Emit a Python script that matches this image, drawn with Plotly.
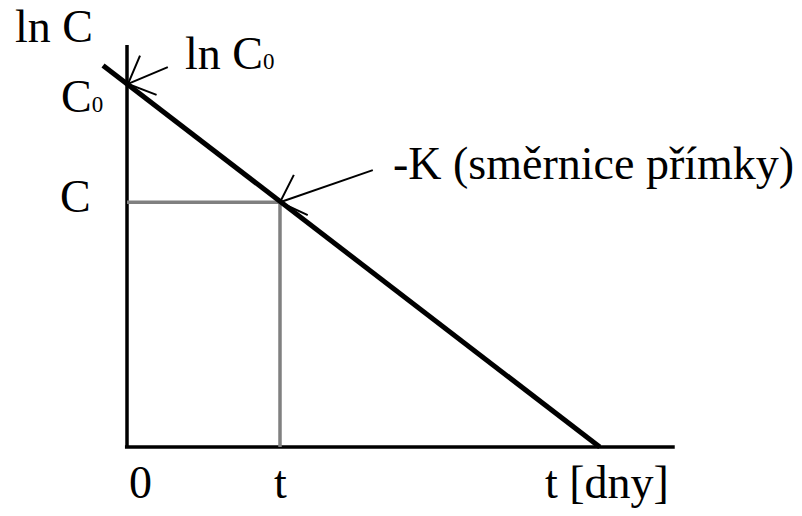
import math
import plotly.graph_objects as go

# ---- schematic data (t in arbitrary day units, ln C in arbitrary units) ----
line_t = [-0.47, 9.27]          # regression line  ln C = ln C0 - K t
line_lnC = [7.48, 0.0]
t_mark = 3.0                    # chosen time t
lnC_mark = 4.80                 # ln C at time t
lnC0 = 7.12                     # intercept ln C0
x_axis_t = [-0.04, 10.74]
y_axis_lnC = [0.0, 7.88]
# pointer arrows: (tip t, tip lnC, tail t, tail lnC)
arrows = [(0.02, lnC0, 0.80, 7.45), (t_mark, lnC_mark, 4.82, 5.43)]

FONT = '"Liberation Serif", "Times New Roman", serif'
FS = 46
SUB = '<span style="font-size:23px">0</span>'

# frame: the page body has an 8px margin, so the figure is 794x508
W, H = 794, 508
PX = 51.0
OX, OY = 119, 439               # pixel position of the data origin inside the figure
x_range = [-OX / PX, (W - OX) / PX]
y_range = [-(H - OY) / PX, OY / PX]

fig = go.Figure()

# axes
fig.add_trace(go.Scatter(x=x_axis_t, y=[0, 0], mode="lines",
                         line=dict(color="black", width=3.5), hoverinfo="skip"))
fig.add_trace(go.Scatter(x=[0, 0], y=y_axis_lnC, mode="lines",
                         line=dict(color="black", width=3.5), hoverinfo="skip"))
# gray guide lines
fig.add_trace(go.Scatter(x=[0, t_mark, t_mark], y=[lnC_mark, lnC_mark, 0], mode="lines",
                         line=dict(color="#808080", width=3.5), hoverinfo="skip"))
# main line
fig.add_trace(go.Scatter(x=line_t, y=line_lnC, mode="lines",
                         line=dict(color="black", width=5), hoverinfo="skip"))

# open arrows (shaft + two barbs), barbs derived by rotating the shaft direction
BARB_ANG = math.radians(44)
BARB_LEN = 0.6
for (tx, ty, ax, ay) in arrows:
    dx, dy = ax - tx, ay - ty
    n = math.hypot(dx, dy)
    ux, uy = dx / n, dy / n
    bx, by = [], []
    for s in (1, -1):
        c, si = math.cos(s * BARB_ANG), math.sin(s * BARB_ANG)
        rx, ry = ux * c - uy * si, ux * si + uy * c
        bx.append(tx + BARB_LEN * rx)
        by.append(ty + BARB_LEN * ry)
    fig.add_trace(go.Scatter(x=[ax, tx], y=[ay, ty], mode="lines",
                             line=dict(color="black", width=2), hoverinfo="skip"))
    fig.add_trace(go.Scatter(x=[bx[0], tx, bx[1]], y=[by[0], ty, by[1]], mode="lines",
                             line=dict(color="black", width=2), hoverinfo="skip"))

def label(text, x, y, xanchor="left"):
    fig.add_annotation(text=text, x=x, y=y, xref="x", yref="y", showarrow=False,
                       xanchor=xanchor, yanchor="middle",
                       font=dict(family=FONT, size=FS, color="black"))

label("ln C", -2.235, 8.24)
label("C" + SUB, -0.43, 6.88, xanchor="right")
label("C", -0.66, 4.92, xanchor="right")
label("ln C" + SUB, 1.10, 7.71)
label("-K (směrnice přímky)", 5.18, 5.56)
label("0", 0.27, -0.70, xanchor="center")
label("t", t_mark, -0.70, xanchor="center")
label("t [dny]", 8.16, -0.70)

fig.update_layout(width=W, height=H, margin=dict(l=0, r=0, t=0, b=0),
                  paper_bgcolor="white", plot_bgcolor="white", showlegend=False,
                  xaxis=dict(visible=False, range=x_range, fixedrange=True),
                  yaxis=dict(visible=False, range=y_range, fixedrange=True))

fig.write_html("out.html")
